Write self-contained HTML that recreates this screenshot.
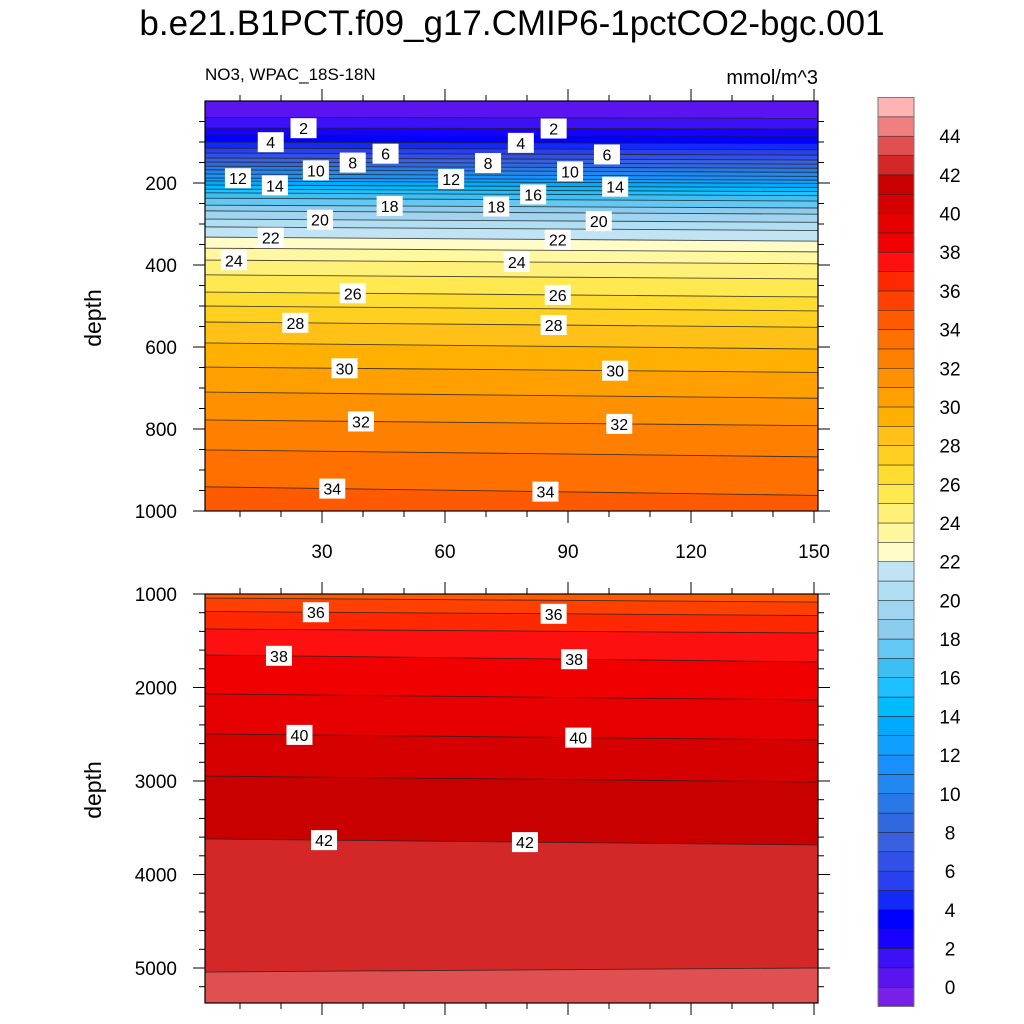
<!DOCTYPE html>
<html><head><meta charset="utf-8"><style>
body{margin:0;background:#fff}
svg{display:block;font-family:"Liberation Sans",sans-serif}
</style></head><body>
<svg id="c" width="1024" height="1024" viewBox="0 0 1024 1024">
<text x="512" y="35" text-anchor="middle" font-size="35">b.e21.B1PCT.f09_g17.CMIP6-1pctCO2-bgc.001</text>
<text x="205" y="80" font-size="17">NO3, WPAC_18S-18N</text>
<text x="818" y="84" font-size="20" text-anchor="end">mmol/m^3</text>
<text transform="translate(101,318) rotate(-90)" text-anchor="middle" font-size="23">depth</text>
<text transform="translate(101,790) rotate(-90)" text-anchor="middle" font-size="23">depth</text>
<g id="top"></g><g id="bot"></g><g id="cb"></g>
</svg>
<script>
// colour per interval: index 0 = below level 0, index k = [k-1,k], last = above 45
const colors=["#7820E8","#5A14F0","#3C10F8","#1800FF","#0000FF","#1428F8","#2840F0","#3050E8","#3860E0","#3068E0","#2878E8","#2088F0","#1890FF","#0FA0FF","#00AAFF","#00BCFF","#1EC0FF","#3CC0F4","#64C8F4","#8CCCEE","#A0D4F0","#B0DEF2","#C0E4F4","#FFFCC8","#FFF8A0","#FFF078","#FFE850","#FFDC30","#FFD020","#FFC018","#FFB000","#FFA000","#FF9000","#FF8000","#FF7000","#FF5A00","#FF4000","#FF2800","#FF1010","#F00000","#E60000","#D60000","#C80000","#D42828","#E05050","#F08080","#FFB3B3"];
const cbLabels=[0,2,4,6,8,10,12,14,16,18,20,22,24,26,28,30,32,34,36,38,40,42,44];
// top pane: contour levels and depths (m) at left (x=1.5) and right (x=150)
const topLevels=[1,2,3,4,5,6,7,8,9,10,11,12,13,14,15,16,17,18,19,20,21,22,23,24,25,26,27,28,29,30,31,32,33,34];
const topDepthL=[40,66,83,100,115,127,139,149,159,168,178,188,195,205,215,224,237,254,268,288,307,332,359,388,424,466,500,539,590,649,710,778,851,941];
const topDepthR=[42,68,86,104,119,132,144,154,164,174,184,193,201,211,221,231,244,261,276,296,316,342,368,397,434,478,512,552,605,662,725,792,868,962];
const topLabelLv=[2,4,12,14,10,8,6,20,18,22,24,26,28,30,32,34,2,4,8,12,10,6,16,14,18,20,22,24,26,28,30,32,34];
const topLabelX=[25.5,17.5,9.5,18.5,28.5,37.5,45.5,29.5,46.5,17.5,8.5,37.5,23.5,35.5,39.5,32.5,86.5,78.5,70.5,61.5,90.5,99.5,81.5,101.5,72.5,97.5,87.5,77.5,87.5,86.5,101.5,102.5,84.5];
// bottom pane
const botLevels=[35,36,37,38,39,40,41,42,43];
const botDepthL=[1043,1187,1374,1652,2069,2497,2947,3620,5043];
const botDepthR=[1086,1230,1417,1727,2134,2561,3011,3684,5000];
const botLabelLv=[36,38,40,42,36,38,40,42];
const botLabelX=[28.5,19.5,24.5,30.5,86.5,91.5,92.5,79.5];

const NS="http://www.w3.org/2000/svg";
function mk(p,t,a){const e=document.createElementNS(NS,t);for(const k in a)e.setAttribute(k,a[k]);p.appendChild(e);return e;}
const X0=205,X1=818;
const xs=v=>199+v*4.1;
const xMin=1.5,xMax=150;

function pane(g,y0,y1,ys,levels,dL,dR,labLv,labX,baseIdx,yTicks,yMinor,xLabels){
  const clip=mk(g,'clipPath',{id:'cl'+y0});mk(clip,'rect',{x:X0,y:y0,width:X1-X0,height:y1-y0});
  const gg=mk(g,'g',{'clip-path':'url(#cl'+y0+')'});
  const bg=mk(gg,'rect',{x:X0,y:y0,width:X1-X0,height:y1-y0,fill:colors[baseIdx]});
  
  
  levels.forEach((lv,i)=>{
    const ya=ys(dL[i]),yb=ys(dR[i]);
    const p=mk(gg,'polygon',{points:`${xs(xMin)-10},${ya} ${xs(xMax)+10},${yb} ${X1+10},${y1+5} ${X0-10},${y1+5}`,fill:colors[lv+1]});
    
    
  });
  levels.forEach((lv,i)=>{
    const l=mk(gg,'line',{x1:X0,y1:ys(dL[i]),x2:X1,y2:ys(dR[i]),stroke:'#222','stroke-width':0.9,'stroke-opacity':0.8});
    
    
  });
  labLv.forEach((lv,j)=>{
    const i=levels.indexOf(lv);const t=(labX[j]-xMin)/(xMax-xMin);
    const y=ys(dL[i]+(dR[i]-dL[i])*t),x=xs(labX[j]);
    const r=mk(gg,'rect',{x:x-13,y:y-10,width:26,height:20,fill:'#fff'});
    
    
    const tx=mk(gg,'text',{x:x,y:y+6,'text-anchor':'middle','font-size':16});tx.textContent=lv;
    
    
  });
  const fr=mk(g,'rect',{x:X0,y:y0,width:X1-X0,height:y1-y0,fill:'none',stroke:'#000','stroke-width':1.2});
  
  
  for(let v=10;v<=150;v+=10){const x=xs(v);const maj=v%30==0;const L=maj?12:6;
    mk(g,'line',{x1:x,y1:y0,x2:x,y2:y0-L,stroke:'#000'});mk(g,'line',{x1:x,y1:y1,x2:x,y2:y1+L,stroke:'#000'});
    if(maj&&xLabels){const t=mk(g,'text',{x:x,y:y1+47,'text-anchor':'middle','font-size':19});t.textContent=v;
      
      }
  }
  yMinor.forEach(d=>{const y=ys(d);if(y<y0-0.5||y>y1+0.5)return;mk(g,'line',{x1:X0,y1:y,x2:X0-6,y2:y,stroke:'#000'});mk(g,'line',{x1:X1,y1:y,x2:X1+6,y2:y,stroke:'#000'});});
  yTicks.forEach(d=>{const y=ys(d);mk(g,'line',{x1:X0,y1:y,x2:X0-12,y2:y,stroke:'#000'});mk(g,'line',{x1:X1,y1:y,x2:X1+12,y2:y,stroke:'#000'});
    const t=mk(g,'text',{x:X0-28,y:y+7,'text-anchor':'end','font-size':19});t.textContent=d;
    
    });
}
const ysTop=d=>101+d*0.41;
const minT=[];for(let d=50;d<1000;d+=50)minT.push(d);
pane(document.getElementById('top'),101,511,ysTop,topLevels,topDepthL,topDepthR,topLabelLv,topLabelX,1,[200,400,600,800,1000],minT,true);
const ysBot=d=>594+(d-1000)*0.0935;
const minB=[];for(let d=1000;d<5400;d+=200)minB.push(d);
pane(document.getElementById('bot'),594,1003,ysBot,botLevels,botDepthL,botDepthR,botLabelLv,botLabelX,35,[1000,2000,3000,4000,5000],minB,false);

const cb=document.getElementById('cb');const bh=(1006.5-97.5)/colors.length;
colors.forEach((c,i)=>{const y=1006.5-(i+1)*bh;const r=mk(cb,'rect',{x:878,y:y,width:36,height:bh,fill:c,stroke:'#222','stroke-width':0.5});
  
  });
mk(cb,'rect',{x:878,y:97.5,width:36,height:909,fill:'none',stroke:'#777','stroke-width':1});
cbLabels.forEach(v=>{const y=1006.5-(v+1)*bh;const t=mk(cb,'text',{x:950,y:y+7,'text-anchor':'middle','font-size':19});t.textContent=v;
  
  });
</script>
</body></html>
